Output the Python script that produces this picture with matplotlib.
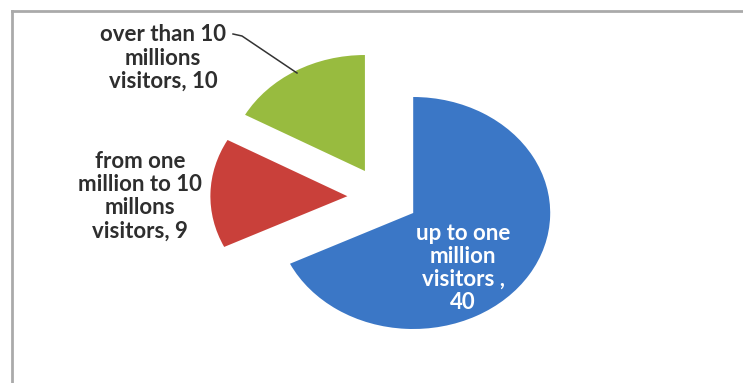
import matplotlib
matplotlib.use('Agg')
import matplotlib.pyplot as plt
from matplotlib.lines import Line2D

# Data ###############
labels = ['up to one\nmillion\nvisitors ,\n40',
          'from one\nmillion to 10\nmillons\nvisitors, 9',
          'over than 10\nmillions\nvisitors, 10']
values = [40, 9, 10]
colors = ['#3b77c6', '#c9403a', '#98bb3f']
######################

W, H = 743, 383
cx, cy = 383, 197      # pie centre in pixels
rx, ry = 137, 116      # radius in pixels (flattened pie)


def px(x, y):
    # pixel -> data coords
    return (x - cx) / rx, (cy - y) / ry


fig = plt.figure(figsize=(W / 100, H / 100), dpi=100)
ax = fig.add_axes([0, 0, 1, 1])

wedges, _ = ax.pie(values, colors=colors, startangle=90, counterclock=False,
                   explode=[0.26] * 3, radius=1,
                   wedgeprops=dict(edgecolor='none'))

ax.set_aspect('auto')
ax.set_xlim(-cx / rx, (W - cx) / rx)
ax.set_ylim(-(H - cy) / ry, cy / ry)
ax.axis('off')

font = ['Lato', 'DejaVu Sans']
fs = 16
ls = 1.13

# labels
x, y = px(463, 268)
ax.text(x, y, labels[0], ha='center', va='center', color='white',
        fontsize=fs, fontweight='bold', family=font, linespacing=ls)
x, y = px(140, 196)
ax.text(x, y, labels[1], ha='center', va='center', color='#2e2e2e',
        fontsize=fs, fontweight='bold', family=font, linespacing=ls)
x, y = px(163, 58)
ax.text(x, y, labels[2], ha='center', va='center', color='#2e2e2e',
        fontsize=fs, fontweight='bold', family=font, linespacing=ls)

# leader line for the green slice
p0 = px(233, 34)
p1 = px(242, 36)
p2 = px(297, 73)
ax.plot([p0[0], p1[0], p2[0]], [p0[1], p1[1], p2[1]], color='#333333', lw=1.1)

# outer chart frame (top and left edges only are visible)
top = 1 - 11 / H
left = 12 / W
fig.lines.append(Line2D([left, 1.0], [top, top], transform=fig.transFigure,
                        color='#aaaaaa', lw=2))
fig.lines.append(Line2D([left, left], [0, top], transform=fig.transFigure,
                        color='#aaaaaa', lw=2))

fig.savefig('out.png', dpi=100)
